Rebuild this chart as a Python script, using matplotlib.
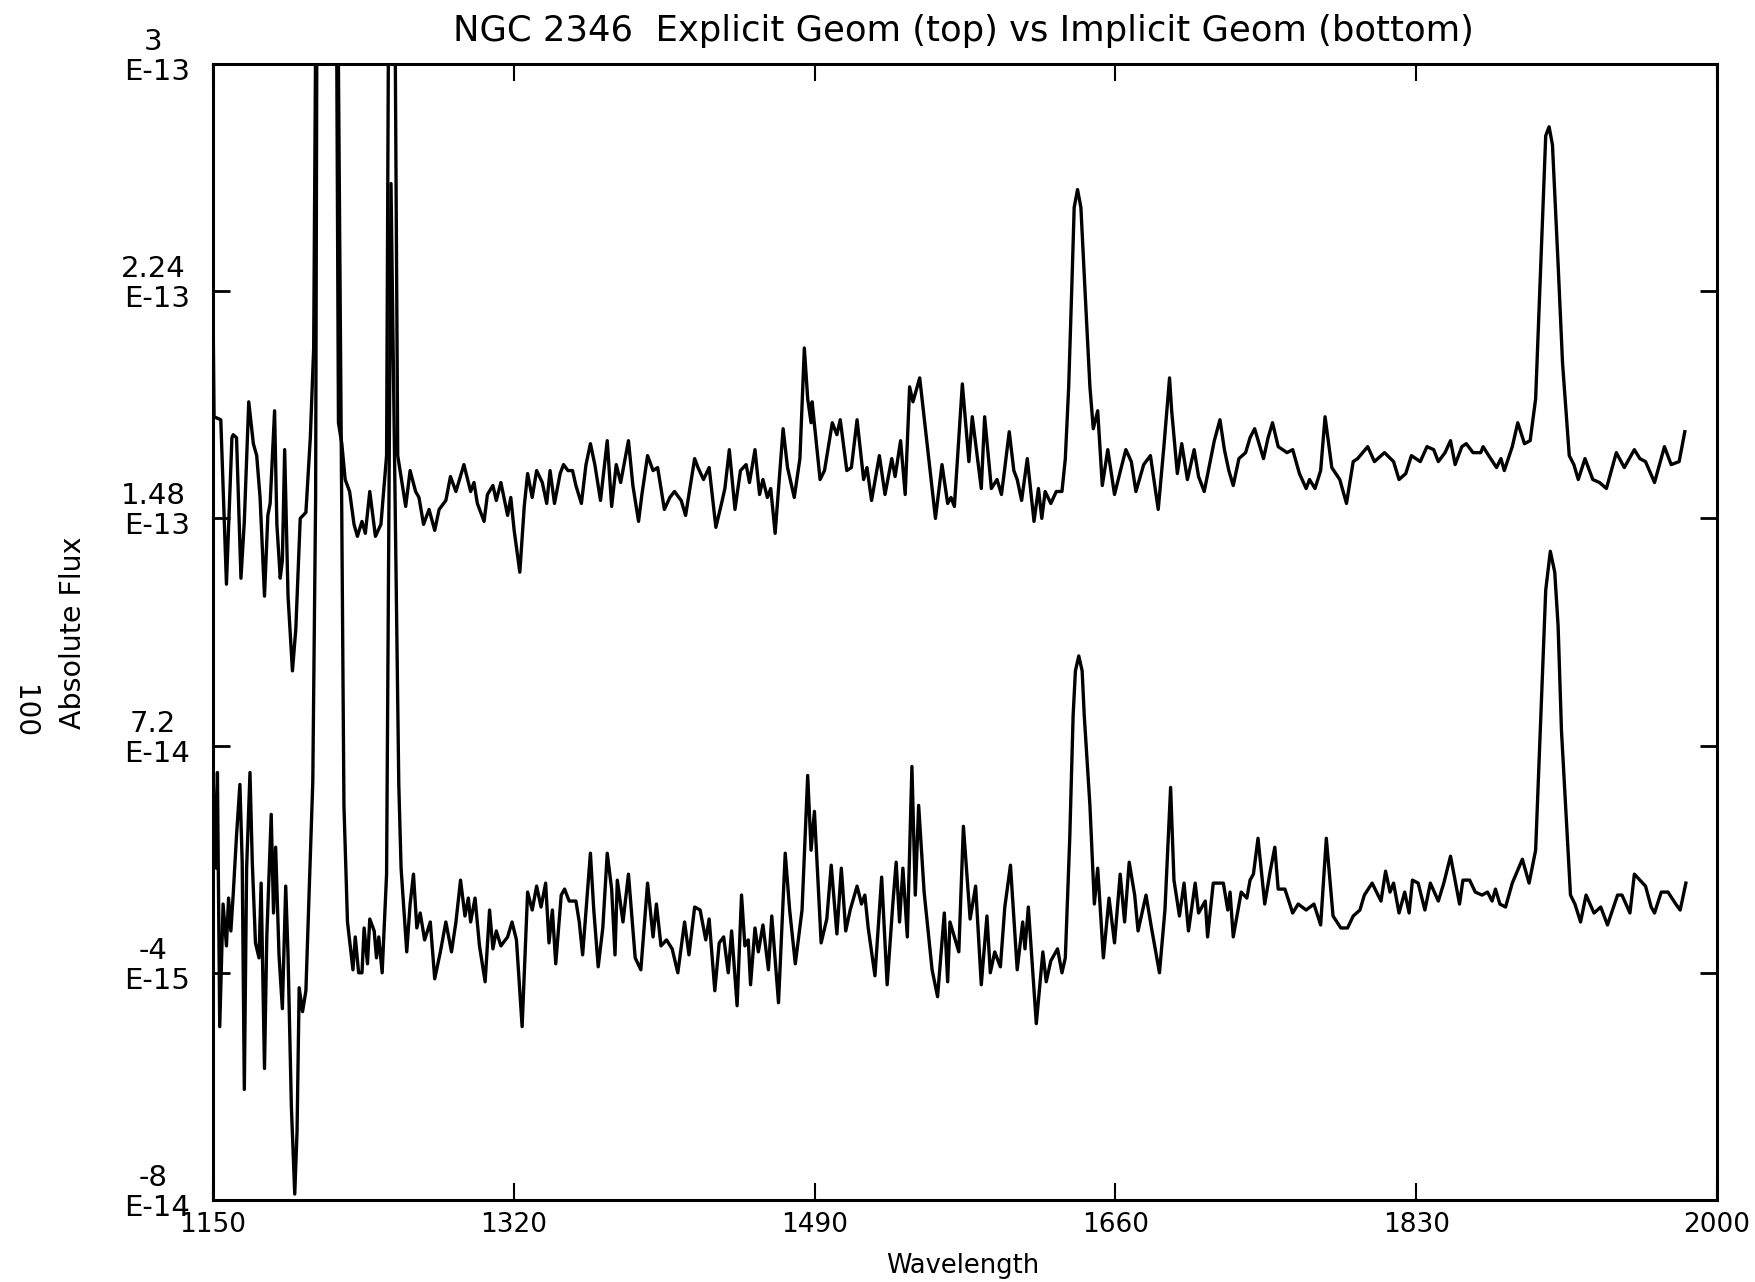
import matplotlib
matplotlib.use("Agg")
import matplotlib.pyplot as plt

# flux values are in units of 1e-13
top_wave = [1150.0, 1150.6, 1154.4, 1157.6, 1160.7, 1161.4, 1163.3, 1165.8, 1167.7, 1170.2,
            1172.8, 1174.7, 1176.6, 1179.1, 1181.0, 1182.3, 1184.8, 1186.1, 1188.0, 1189.2,
            1190.5, 1192.4, 1194.9, 1196.8, 1199.3, 1202.5, 1205.0, 1206.9, 1209.5, 1218.8,
            1220.9, 1222.8, 1224.7, 1227.2, 1229.7, 1231.6, 1234.2, 1236.1, 1238.6, 1241.8,
            1244.9, 1248.1, 1250.2, 1251.5, 1254.4, 1258.9, 1261.4, 1264.5, 1266.4, 1269.0,
            1272.1, 1275.3, 1277.8, 1281.6, 1284.2, 1287.3, 1291.8, 1295.6, 1297.5, 1299.4,
            1303.2, 1305.1, 1308.2, 1310.1, 1312.7, 1316.5, 1318.3, 1320.2, 1323.4, 1325.9,
            1327.8, 1330.4, 1332.9, 1336.1, 1338.6, 1340.5, 1343.0, 1346.2, 1348.1, 1350.6,
            1353.2, 1355.1, 1358.2, 1360.8, 1363.3, 1365.8, 1369.0, 1372.8, 1375.3, 1377.9,
            1380.4, 1384.8, 1387.3, 1390.5, 1392.4, 1395.6, 1398.7, 1401.3, 1405.1, 1408.2,
            1410.8, 1414.6, 1417.1, 1422.2, 1424.1, 1427.2, 1430.4, 1434.2, 1437.4, 1439.3,
            1441.8, 1445.0, 1448.1, 1451.3, 1453.2, 1456.3, 1458.9, 1460.8, 1463.3, 1465.2,
            1467.7, 1472.2, 1474.7, 1478.5, 1481.7, 1484.2, 1486.1, 1488.0, 1488.6, 1493.1,
            1495.6, 1500.0, 1502.6, 1504.5, 1508.2, 1510.8, 1514.0, 1517.7, 1519.6, 1522.2,
            1526.6, 1529.8, 1533.6, 1535.5, 1538.6, 1541.2, 1543.7, 1545.6, 1549.4, 1558.3,
            1562.0, 1565.2, 1567.1, 1569.0, 1573.5, 1577.2, 1579.1, 1584.2, 1586.1, 1589.9,
            1593.1, 1595.6, 1596.9, 1600.0, 1602.6, 1604.5, 1607.0, 1610.2, 1614.0, 1616.5,
            1618.4, 1620.3, 1623.5, 1626.6, 1629.8, 1631.7, 1633.6, 1635.5, 1636.7, 1638.6,
            1640.5, 1643.1, 1645.6, 1647.5, 1650.0, 1652.6, 1655.7, 1659.5, 1663.3, 1665.9,
            1669.0, 1671.6, 1676.0, 1679.8, 1684.2, 1687.4, 1690.6, 1691.8, 1695.0, 1697.5,
            1700.7, 1704.5, 1707.0, 1710.2, 1715.9, 1719.1, 1721.6, 1724.1, 1726.6, 1729.8,
            1733.6, 1736.1, 1738.7, 1743.7, 1746.3, 1748.8, 1752.0, 1757.0, 1760.2, 1764.0,
            1767.8, 1769.7, 1772.8, 1776.0, 1778.5, 1782.3, 1786.8, 1790.6, 1794.4, 1796.9,
            1802.6, 1806.4, 1812.1, 1817.2, 1820.3, 1824.1, 1827.3, 1832.3, 1836.1, 1839.9,
            1842.5, 1846.3, 1849.4, 1852.0, 1855.8, 1858.3, 1862.1, 1866.5, 1867.8, 1871.0,
            1875.4, 1877.9, 1879.8, 1884.3, 1887.4, 1891.2, 1894.4, 1897.5, 1900.1, 1903.2,
            1905.1, 1907.0, 1910.2, 1912.7, 1916.5, 1919.1, 1921.6, 1925.4, 1929.8, 1933.6,
            1937.5, 1943.1, 1947.6, 1953.3, 1956.4, 1959.6, 1964.7, 1970.3, 1974.1, 1978.6,
            1981.8]
top_flux = [2.20, 1.82, 1.81, 1.26, 1.75, 1.76, 1.75, 1.28, 1.47, 1.87,
            1.73, 1.69, 1.55, 1.22, 1.49, 1.53, 1.84, 1.46, 1.28, 1.34,
            1.71, 1.22, 0.97, 1.11, 1.48, 1.50, 1.75, 2.05, 4.50, 4.50,
            1.80, 1.73, 1.61, 1.57, 1.46, 1.42, 1.47, 1.43, 1.57, 1.42,
            1.46, 1.69, 4.50, 4.50, 1.69, 1.52, 1.64, 1.57, 1.55, 1.46,
            1.51, 1.44, 1.51, 1.54, 1.62, 1.57, 1.66, 1.57, 1.60, 1.53,
            1.47, 1.56, 1.59, 1.54, 1.60, 1.49, 1.55, 1.44, 1.30, 1.52,
            1.63, 1.55, 1.64, 1.60, 1.53, 1.64, 1.53, 1.63, 1.66, 1.64,
            1.64, 1.59, 1.53, 1.66, 1.73, 1.66, 1.54, 1.74, 1.52, 1.66,
            1.60, 1.74, 1.59, 1.47, 1.56, 1.69, 1.64, 1.65, 1.51, 1.55,
            1.57, 1.54, 1.49, 1.68, 1.65, 1.61, 1.65, 1.45, 1.53, 1.58,
            1.71, 1.51, 1.64, 1.66, 1.60, 1.71, 1.56, 1.61, 1.55, 1.58,
            1.43, 1.78, 1.65, 1.55, 1.68, 2.05, 1.88, 1.80, 1.87, 1.61,
            1.64, 1.80, 1.76, 1.81, 1.64, 1.65, 1.81, 1.61, 1.65, 1.54,
            1.69, 1.56, 1.68, 1.62, 1.74, 1.56, 1.92, 1.87, 1.95, 1.48,
            1.66, 1.53, 1.55, 1.52, 1.93, 1.67, 1.82, 1.58, 1.82, 1.58,
            1.61, 1.56, 1.62, 1.77, 1.64, 1.61, 1.54, 1.68, 1.47, 1.58,
            1.48, 1.57, 1.53, 1.57, 1.57, 1.68, 1.92, 2.28, 2.52, 2.58,
            2.52, 2.21, 1.92, 1.78, 1.84, 1.59, 1.71, 1.56, 1.65, 1.71,
            1.67, 1.57, 1.66, 1.69, 1.51, 1.72, 1.95, 1.84, 1.63, 1.73,
            1.61, 1.71, 1.62, 1.57, 1.74, 1.81, 1.71, 1.64, 1.59, 1.68,
            1.70, 1.75, 1.78, 1.68, 1.75, 1.80, 1.72, 1.70, 1.71, 1.63,
            1.58, 1.61, 1.58, 1.64, 1.82, 1.65, 1.61, 1.53, 1.67, 1.68,
            1.72, 1.67, 1.70, 1.67, 1.61, 1.63, 1.69, 1.67, 1.72, 1.71,
            1.67, 1.70, 1.74, 1.66, 1.72, 1.73, 1.70, 1.70, 1.72, 1.69,
            1.65, 1.68, 1.64, 1.72, 1.80, 1.73, 1.74, 1.88, 2.28, 2.76,
            2.79, 2.73, 2.33, 2.00, 1.69, 1.66, 1.61, 1.68, 1.61, 1.60,
            1.58, 1.70, 1.65, 1.71, 1.68, 1.67, 1.60, 1.72, 1.66, 1.67,
            1.77]

bot_wave = [1150.0, 1151.9, 1152.5, 1153.8, 1155.7, 1157.6, 1158.8, 1160.1, 1161.4, 1163.3,
            1165.2, 1166.5, 1167.7, 1169.0, 1170.9, 1172.2, 1174.0, 1176.0, 1177.2, 1179.1,
            1180.4, 1182.9, 1184.2, 1185.4, 1187.3, 1189.2, 1191.1, 1192.4, 1194.3, 1196.2,
            1197.5, 1198.7, 1200.6, 1202.5, 1205.0, 1206.4, 1208.0, 1209.3, 1219.0, 1224.0,
            1226.0, 1229.1, 1230.4, 1232.3, 1234.2, 1235.4, 1237.3, 1238.6, 1241.1, 1242.4,
            1243.7, 1245.6, 1248.1, 1250.6, 1255.0, 1256.3, 1259.5, 1261.4, 1263.3, 1265.2,
            1267.1, 1269.6, 1272.8, 1275.3, 1278.5, 1281.6, 1284.8, 1287.3, 1289.9, 1292.4,
            1294.3, 1295.6, 1298.1, 1300.6, 1303.8, 1306.3, 1308.2, 1310.1, 1312.7, 1316.5,
            1319.0, 1321.5, 1324.7, 1327.8, 1330.4, 1332.9, 1335.4, 1338.0, 1339.9, 1341.8,
            1343.7, 1346.8, 1348.7, 1351.3, 1355.1, 1357.0, 1358.9, 1363.3, 1365.2, 1367.7,
            1370.3, 1372.8, 1375.3, 1377.2, 1378.5, 1381.7, 1384.8, 1388.6, 1391.8, 1395.6,
            1398.7, 1400.6, 1403.2, 1406.3, 1409.5, 1412.7, 1416.5, 1419.0, 1422.2, 1425.3,
            1428.5, 1430.4, 1433.6, 1436.1, 1438.6, 1441.2, 1443.1, 1446.2, 1448.7, 1450.6,
            1452.5, 1453.8, 1456.3, 1458.2, 1460.8, 1463.9, 1465.8, 1469.6, 1473.4, 1475.9,
            1479.1, 1482.9, 1486.1, 1488.0, 1489.9, 1493.7, 1496.9, 1499.4, 1502.6, 1505.1,
            1507.6, 1510.1, 1514.0, 1516.5, 1518.4, 1520.3, 1524.1, 1527.9, 1531.0, 1534.2,
            1536.1, 1538.0, 1539.9, 1542.4, 1545.0, 1546.9, 1548.8, 1551.9, 1556.4, 1559.5,
            1563.3, 1565.2, 1566.5, 1571.5, 1574.1, 1577.9, 1581.0, 1584.2, 1587.4, 1589.3,
            1591.8, 1595.0, 1597.5, 1600.7, 1604.5, 1607.6, 1608.9, 1610.8, 1615.3, 1619.0,
            1620.9, 1623.5, 1627.3, 1629.8, 1631.7, 1634.2, 1636.1, 1637.4, 1639.3, 1641.2,
            1642.4, 1645.6, 1648.1, 1650.0, 1653.2, 1656.4, 1659.5, 1662.7, 1665.2, 1667.8,
            1670.9, 1672.8, 1677.3, 1680.4, 1684.9, 1688.0, 1691.2, 1693.1, 1696.2, 1698.8,
            1701.3, 1705.1, 1707.0, 1710.8, 1712.1, 1715.3, 1721.0, 1723.5, 1724.8, 1726.6,
            1731.1, 1734.3, 1736.1, 1738.0, 1740.6, 1744.4, 1747.5, 1750.1, 1752.0, 1755.8,
            1760.2, 1763.3, 1767.8, 1772.2, 1776.0, 1779.2, 1783.0, 1787.4, 1791.2, 1794.4,
            1798.2, 1800.7, 1805.1, 1810.1, 1812.7, 1815.2, 1817.2, 1820.3, 1823.5, 1826.0,
            1827.9, 1831.1, 1834.9, 1838.0, 1842.5, 1845.6, 1849.4, 1854.5, 1856.4, 1860.2,
            1863.4, 1867.2, 1870.3, 1872.9, 1874.8, 1877.3, 1880.5, 1884.3, 1890.0, 1893.8,
            1897.5, 1900.1, 1903.2, 1905.8, 1908.3, 1910.2, 1912.1, 1917.2, 1919.7, 1922.9,
            1926.0, 1930.5, 1934.3, 1938.1, 1943.8, 1946.3, 1950.8, 1953.3, 1959.6, 1962.8,
            1964.7, 1968.5, 1972.3, 1976.7, 1979.2, 1982.4]
bot_flux = [0.63, 0.31, 0.63, -0.22, 0.19, 0.05, 0.21, 0.10, 0.22, 0.42,
            0.59, 0.33, -0.43, 0.31, 0.63, 0.33, 0.06, 0.01, 0.26, -0.36,
            0.08, 0.49, 0.16, 0.38, 0.02, -0.16, 0.25, 0.02, -0.49, -0.78,
            -0.57, -0.09, -0.17, -0.10, 0.35, 0.60, 1.55, 4.50, 4.50, 0.52,
            0.13, -0.03, 0.08, -0.04, -0.04, 0.11, -0.01, 0.14, 0.10, 0.01,
            0.08, -0.04, 0.29, 2.60, 0.59, 0.31, 0.03, 0.19, 0.29, 0.11,
            0.16, 0.07, 0.13, -0.06, 0.03, 0.13, 0.03, 0.13, 0.27, 0.15,
            0.21, 0.13, 0.21, 0.05, -0.07, 0.17, 0.04, 0.10, 0.05, 0.08,
            0.13, 0.07, -0.22, 0.23, 0.17, 0.25, 0.18, 0.26, 0.06, 0.17,
            -0.01, 0.22, 0.24, 0.20, 0.20, 0.13, 0.02, 0.36, 0.17, -0.02,
            0.11, 0.36, 0.24, 0.02, 0.27, 0.13, 0.29, 0.01, -0.03, 0.26,
            0.08, 0.19, 0.05, 0.07, 0.04, -0.04, 0.13, 0.02, 0.18, 0.17,
            0.07, 0.14, -0.10, 0.06, 0.08, -0.04, 0.10, -0.15, 0.22, 0.05,
            0.07, -0.08, 0.11, 0.03, 0.12, -0.03, 0.15, -0.14, 0.36, 0.17,
            -0.01, 0.17, 0.62, 0.37, 0.50, 0.06, 0.14, 0.32, 0.09, 0.31,
            0.10, 0.17, 0.25, 0.19, 0.22, 0.11, -0.05, 0.28, -0.08, 0.19,
            0.33, 0.13, 0.31, 0.08, 0.65, 0.22, 0.52, 0.23, -0.03, -0.12,
            0.16, -0.07, 0.13, 0.03, 0.45, 0.14, 0.25, -0.08, 0.15, -0.04,
            0.03, -0.02, 0.18, 0.32, -0.03, 0.13, 0.04, 0.18, -0.21, 0.03,
            -0.07, 0.00, 0.04, -0.04, 0.01, 0.41, 0.82, 0.97, 1.02, 0.97,
            0.82, 0.52, 0.19, 0.31, 0.01, 0.21, 0.06, 0.29, 0.13, 0.33,
            0.22, 0.10, 0.22, 0.11, -0.04, 0.17, 0.58, 0.27, 0.15, 0.26,
            0.10, 0.26, 0.16, 0.20, 0.08, 0.26, 0.26, 0.17, 0.23, 0.08,
            0.23, 0.21, 0.27, 0.29, 0.41, 0.19, 0.30, 0.38, 0.24, 0.24,
            0.16, 0.19, 0.17, 0.19, 0.12, 0.41, 0.15, 0.11, 0.11, 0.15,
            0.17, 0.22, 0.26, 0.20, 0.30, 0.23, 0.26, 0.16, 0.23, 0.16,
            0.27, 0.26, 0.17, 0.26, 0.20, 0.26, 0.35, 0.19, 0.27, 0.27,
            0.23, 0.22, 0.23, 0.20, 0.24, 0.19, 0.18, 0.26, 0.34, 0.26,
            0.37, 0.77, 1.24, 1.37, 1.30, 1.12, 0.77, 0.22, 0.19, 0.13,
            0.22, 0.16, 0.18, 0.12, 0.22, 0.22, 0.16, 0.29, 0.25, 0.18,
            0.16, 0.23, 0.23, 0.19, 0.17, 0.26]

x_ticks = [1150, 1320, 1490, 1660, 1830, 2000]
y_ticks = [3.0, 2.24, 1.48, 0.72, -0.04, -0.8]
y_tick_top = ["3", "2.24", "1.48", "7.2", "-4", "-8"]
y_tick_exp = ["E-13", "E-13", "E-13", "E-14", "E-15", "E-14"]

W, H = 1756, 1282
fig = plt.figure(figsize=(W / 100, H / 100), dpi=100)
ax = fig.add_axes([213 / W, 82 / H, 1504 / W, 1136 / H])

ax.plot(top_wave, top_flux, color="black", lw=2.4)
ax.plot(bot_wave, bot_flux, color="black", lw=2.4)

ax.set_xlim(1150, 2000)
ax.set_ylim(-0.8, 3.0)
for s in ax.spines.values():
    s.set_linewidth(2.2)

ax.set_xticks(x_ticks)
ax.set_xticklabels([str(t) for t in x_ticks])
ax.tick_params(axis="x", direction="in", length=12, width=1.5, top=True,
               labelsize=19, pad=9)
ax.set_yticks(y_ticks)
ax.set_yticklabels([])
ax.tick_params(axis="y", direction="in", length=12, width=2, right=True)

# two-line y labels (mantissa above, exponent on the tick)
for v, top, exp in zip(y_ticks, y_tick_top, y_tick_exp):
    ax.annotate(top, xy=(0, v), xycoords=("axes fraction", "data"),
                xytext=(-60, 22), textcoords="offset pixels",
                ha="center", va="center", fontsize=21)
    ax.annotate(exp, xy=(0, v), xycoords=("axes fraction", "data"),
                xytext=(-56, -8), textcoords="offset pixels",
                ha="center", va="center", fontsize=21)

fig.text(963 / W, 1 - 31 / H, "NGC 2346  Explicit Geom (top) vs Implicit Geom (bottom)",
         ha="center", va="center", fontsize=25.5)
fig.text(963 / W, 1 - 1266 / H, "Wavelength", ha="center", va="center", fontsize=18.5)
fig.text(73 / W, 1 - 633 / H, "Absolute Flux", ha="center", va="center",
         rotation=90, fontsize=20.5)
fig.text(24 / W, 1 - 712 / H, "100", ha="center", va="center",
         rotation=270, fontsize=20)

fig.savefig("out.png", dpi=100)
